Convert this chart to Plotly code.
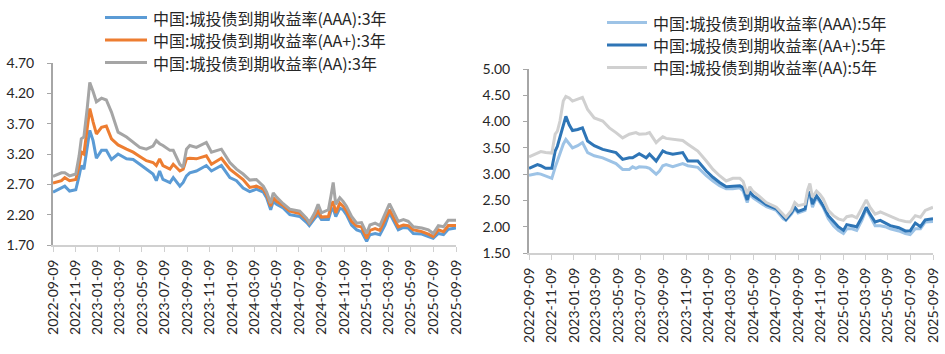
import plotly.graph_objects as go

dates = [
    "2022-09-09", "2022-10-02", "2022-10-11", "2022-10-24", "2022-11-10", "2022-11-19", "2022-11-25", "2022-12-02",
    "2022-12-11", "2022-12-18", "2022-12-27", "2023-01-05", "2023-01-19", "2023-02-01", "2023-02-15", "2023-03-05",
    "2023-03-28", "2023-04-15", "2023-05-03", "2023-05-21", "2023-06-08", "2023-06-17", "2023-06-26", "2023-07-05",
    "2023-07-24", "2023-08-02", "2023-08-20", "2023-08-29", "2023-09-07", "2023-09-16", "2023-10-04", "2023-10-31",
    "2023-11-14", "2023-12-11", "2024-01-03", "2024-01-21", "2024-02-08", "2024-02-26", "2024-03-15", "2024-04-03",
    "2024-04-12", "2024-04-23", "2024-04-30", "2024-05-09", "2024-05-27", "2024-06-14", "2024-07-11", "2024-07-30",
    "2024-08-06", "2024-08-21", "2024-08-30", "2024-09-08", "2024-09-27", "2024-10-04", "2024-10-10", "2024-10-17",
    "2024-10-28", "2024-11-06", "2024-11-15", "2024-11-29", "2024-12-13", "2024-12-26", "2025-01-09", "2025-01-18",
    "2025-02-01", "2025-02-14", "2025-02-28", "2025-03-12", "2025-03-22", "2025-04-05", "2025-04-19", "2025-05-02",
    "2025-05-16", "2025-06-08", "2025-06-26", "2025-07-09", "2025-07-23", "2025-08-06", "2025-08-19", "2025-09-09",
]

aaa_3y = [
    2.57, 2.64, 2.67, 2.59, 2.61, 2.84, 3.01, 2.95, 3.28, 3.59,
    3.42, 3.13, 3.26, 3.26, 3.11, 3.20, 3.12, 3.11, 3.03, 2.95,
    2.87, 2.76, 2.92, 2.78, 2.73, 2.81, 2.67, 2.73, 2.84, 2.89,
    2.92, 3.01, 2.92, 3.01, 2.81, 2.76, 2.64, 2.58, 2.62, 2.57,
    2.48, 2.28, 2.42, 2.37, 2.31, 2.20, 2.17, 2.07, 2.02, 2.14,
    2.20, 2.12, 2.12, 2.26, 2.30, 2.17, 2.31, 2.28, 2.20, 2.03,
    1.95, 1.92, 1.76, 1.87, 1.89, 1.87, 2.03, 2.23, 2.12, 1.95,
    1.99, 1.98, 1.89, 1.88, 1.84, 1.81, 1.89, 1.87, 1.96, 1.98,
]
aap_3y = [
    2.72, 2.76, 2.81, 2.76, 2.78, 3.01, 3.23, 3.20, 3.62, 3.95,
    3.73, 3.53, 3.64, 3.66, 3.45, 3.35, 3.28, 3.23, 3.16, 3.09,
    3.06, 3.01, 3.12, 3.01, 2.95, 3.03, 2.92, 2.95, 3.12, 3.13,
    3.12, 3.17, 3.03, 3.13, 2.95, 2.87, 2.78, 2.65, 2.67, 2.62,
    2.53, 2.34, 2.48, 2.42, 2.35, 2.26, 2.22, 2.12, 2.06, 2.18,
    2.26, 2.16, 2.17, 2.34, 2.42, 2.23, 2.39, 2.34, 2.26, 2.09,
    2.01, 2.00, 1.81, 1.94, 1.97, 1.94, 2.12, 2.28, 2.17, 2.00,
    2.03, 2.02, 1.95, 1.92, 1.88, 1.84, 1.95, 1.92, 2.02, 2.02,
]
aa_3y = [
    2.83, 2.89, 2.89, 2.84, 2.87, 3.17, 3.45, 3.48, 3.95, 4.38,
    4.23, 4.06, 4.12, 4.09, 3.89, 3.56, 3.48, 3.39, 3.31, 3.28,
    3.33, 3.42, 3.37, 3.34, 3.26, 3.26, 3.03, 2.98, 3.28, 3.34,
    3.31, 3.39, 3.23, 3.28, 3.06, 2.95, 2.87, 2.77, 2.78, 2.67,
    2.57, 2.39, 2.56, 2.49, 2.38, 2.29, 2.26, 2.14, 2.07, 2.23,
    2.37, 2.23, 2.28, 2.51, 2.73, 2.37, 2.48, 2.42, 2.34, 2.17,
    2.06, 2.07, 1.89, 2.03, 2.06, 2.02, 2.23, 2.38, 2.26, 2.09,
    2.12, 2.09, 2.00, 1.98, 1.95, 1.89, 2.02, 2.00, 2.11, 2.11,
]

aaa_5y = [
    2.98, 3.01, 3.00, 2.97, 2.92, 3.13, 3.25, 3.38, 3.57, 3.66,
    3.57, 3.50, 3.54, 3.60, 3.41, 3.35, 3.31, 3.25, 3.20, 3.09,
    3.09, 3.14, 3.11, 3.14, 3.13, 3.11, 3.00, 3.06, 3.16, 3.18,
    3.14, 3.20, 3.16, 3.13, 2.97, 2.87, 2.78, 2.72, 2.72, 2.74,
    2.68, 2.46, 2.62, 2.55, 2.46, 2.38, 2.31, 2.15, 2.12, 2.24,
    2.34, 2.26, 2.31, 2.56, 2.62, 2.37, 2.56, 2.46, 2.37, 2.15,
    2.02, 1.93, 1.87, 1.96, 1.96, 1.93, 2.12, 2.34, 2.21, 2.02,
    2.02, 2.00, 1.96, 1.92, 1.87, 1.85, 1.96, 1.96, 2.09, 2.10,
]
aap_5y = [
    3.11, 3.18, 3.16, 3.11, 3.11, 3.44, 3.53, 3.69, 3.94, 4.10,
    3.94, 3.83, 3.85, 3.88, 3.63, 3.54, 3.47, 3.44, 3.41, 3.28,
    3.31, 3.31, 3.35, 3.39, 3.31, 3.38, 3.25, 3.35, 3.44, 3.41,
    3.38, 3.41, 3.25, 3.25, 3.06, 2.94, 2.84, 2.76, 2.77, 2.78,
    2.74, 2.51, 2.67, 2.59, 2.51, 2.42, 2.34, 2.18, 2.14, 2.27,
    2.37, 2.29, 2.34, 2.62, 2.65, 2.43, 2.59, 2.50, 2.40, 2.21,
    2.09, 2.00, 1.93, 2.04, 2.02, 2.00, 2.18, 2.37, 2.24, 2.09,
    2.12, 2.07, 2.02, 1.98, 1.92, 1.92, 2.07, 2.00, 2.13, 2.15,
]
aa_5y = [
    3.33, 3.41, 3.43, 3.41, 3.40, 3.76, 3.82, 4.01, 4.39, 4.48,
    4.45, 4.39, 4.42, 4.46, 4.23, 4.07, 4.01, 3.88, 3.79, 3.69,
    3.76, 3.77, 3.79, 3.76, 3.77, 3.79, 3.60, 3.66, 3.71, 3.68,
    3.66, 3.64, 3.57, 3.44, 3.25, 3.09, 2.97, 2.87, 2.92, 2.92,
    2.86, 2.62, 2.76, 2.67, 2.57, 2.46, 2.37, 2.23, 2.18, 2.31,
    2.46, 2.40, 2.43, 2.70, 2.82, 2.56, 2.68, 2.62, 2.53, 2.31,
    2.21, 2.15, 2.12, 2.19, 2.21, 2.17, 2.37, 2.51, 2.37, 2.24,
    2.28, 2.24, 2.19, 2.13, 2.10, 2.09, 2.21, 2.18, 2.31, 2.37,
]

tick_dates = [
    "2022-09-09", "2022-11-09", "2023-01-09", "2023-03-09", "2023-05-09", "2023-07-09", "2023-09-09",
    "2023-11-09", "2024-01-09", "2024-03-09", "2024-05-09", "2024-07-09", "2024-09-09", "2024-11-09",
    "2025-01-09", "2025-03-09", "2025-05-09", "2025-07-09", "2025-09-09",
]

names_3y = ["中国:城投债到期收益率(AAA):3年", "中国:城投债到期收益率(AA+):3年", "中国:城投债到期收益率(AA):3年"]
names_5y = ["中国:城投债到期收益率(AAA):5年", "中国:城投债到期收益率(AA+):5年", "中国:城投债到期收益率(AA):5年"]
colors_3y = ["#5B9BD5", "#ED7D31", "#A5A5A5"]
colors_5y = ["#9DC3E6", "#2E75B6", "#D0D0D0"]

W, H = 945, 354
fig = go.Figure()
for name, ys, col in zip(names_3y, [aaa_3y, aap_3y, aa_3y], colors_3y):
    fig.add_trace(go.Scatter(x=dates, y=ys, name=name, mode="lines",
                             line=dict(color=col, width=3), xaxis="x", yaxis="y"))
for name, ys, col in zip(names_5y, [aaa_5y, aap_5y, aa_5y], colors_5y):
    fig.add_trace(go.Scatter(x=dates, y=ys, name=name, mode="lines",
                             line=dict(color=col, width=3), xaxis="x2", yaxis="y2"))

# legend blocks (drawn as line swatches + text, paper coordinates)
legend_font = dict(family="Noto Sans CJK SC", size=16, color="#262626")
legend_blocks = [
    (names_3y, colors_3y, 105, 147, [17.5, 40, 62.5]),
    (names_5y, colors_5y, 607, 647, [22.5, 45, 67.5]),
]
shapes, annotations = [], []
for names, cols, x0, x1, rows in legend_blocks:
    for name, col, ry in zip(names, cols, rows):
        shapes.append(dict(type="line", xref="paper", yref="paper", x0=x0 / W, x1=x1 / W,
                           y0=1 - ry / H, y1=1 - ry / H, line=dict(color=col, width=3)))
        annotations.append(dict(xref="paper", yref="paper", x=(x1 + 5) / W, y=1 - ry / H, text=name,
                                showarrow=False, xanchor="left", yanchor="middle", font=legend_font,
                                borderpad=0))

tick_font = dict(family="Lato, Noto Sans CJK SC", size=14, color="#262626")
xcommon = dict(type="date", range=[tick_dates[0], tick_dates[-1]], tickvals=tick_dates, ticktext=tick_dates,
               tickangle=-90, showline=True, linecolor="#D0D0D0", linewidth=2, ticks="outside", ticklen=5,
               tickcolor="#D0D0D0", tickwidth=1, showgrid=False, zeroline=False, tickfont=tick_font,
               ticklabelstandoff=2)
ycommon = dict(showline=True, linecolor="#A6A6A6", linewidth=2, ticks="outside", ticklen=4,
               tickcolor="#A6A6A6", showgrid=False, zeroline=False, tickfont=tick_font, tickformat=".2f",
               dtick=0.5, ticklabelstandoff=10)

fig.update_layout(
    width=W, height=H, margin=dict(l=0, r=0, t=0, b=0, autoexpand=False),
    plot_bgcolor="white", paper_bgcolor="white",
    font=dict(family="Noto Sans CJK SC", color="#262626"),
    xaxis=dict(domain=[53 / W, 456 / W], anchor="y", **xcommon),
    yaxis=dict(domain=[1 - 245 / H, 1 - 63 / H], anchor="x", range=[1.70, 4.70], tick0=1.70, **ycommon),
    xaxis2=dict(domain=[529 / W, 933 / W], anchor="y2", **xcommon),
    yaxis2=dict(domain=[1 - 253 / H, 1 - 69 / H], anchor="x2", range=[1.50, 5.00], tick0=1.50, **ycommon),
    showlegend=False,
    shapes=shapes,
    annotations=annotations,
)

fig.write_html("out.html")
